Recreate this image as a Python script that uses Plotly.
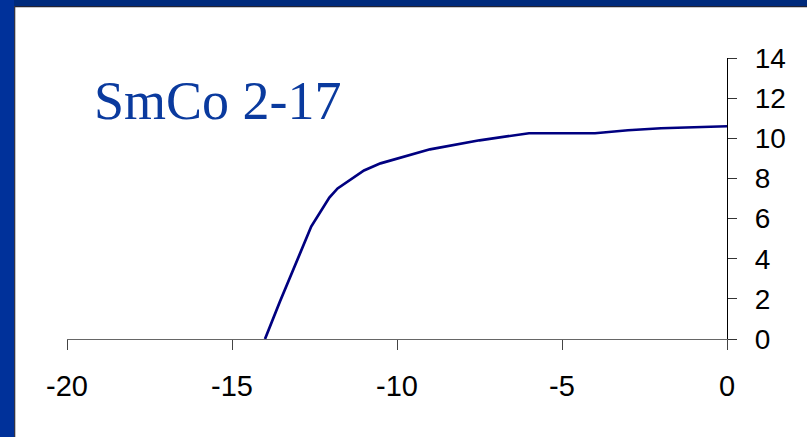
import plotly.graph_objects as go

# Demagnetization curve data
h_values = [-14.0, -13.55, -12.6, -12.05, -11.8, -11.0, -10.5, -9.0, -7.5, -6.0, -4.0, -3.0, -2.0, 0.0]
b_values = [0.0, 1.85, 5.6, 7.05, 7.5, 8.4, 8.75, 9.45, 9.9, 10.25, 10.25, 10.4, 10.5, 10.6]

x_ticks = [-20, -15, -10, -5, 0]
y_ticks = [0, 2, 4, 6, 8, 10, 12, 14]
title_text = "SmCo 2-17"

W, H = 807, 437
L, R, T, B = 67, 80, 58, 98
pw, ph = W - L - R, H - T - B


def px2x(px):
    return (px - L) / pw


def py2y(py):
    return 1 - (py - T) / ph


fig = go.Figure()
fig.add_trace(go.Scatter(
    x=h_values, y=b_values, mode="lines",
    line=dict(color="#000080", width=2.7),
    hoverinfo="skip", showlegend=False, cliponaxis=False,
))

shapes = [
    # top border
    dict(type="rect", xref="paper", yref="paper", x0=px2x(0), x1=px2x(W), y0=py2y(0), y1=py2y(6),
         fillcolor="#002a7c", line=dict(width=0), layer="above"),
    dict(type="rect", xref="paper", yref="paper", x0=px2x(14), x1=px2x(W), y0=py2y(6), y1=py2y(7.3),
         fillcolor="#222233", line=dict(width=0), layer="above"),
    # left border
    dict(type="rect", xref="paper", yref="paper", x0=px2x(0), x1=px2x(14), y0=py2y(0), y1=py2y(H),
         fillcolor="#00319a", line=dict(width=0), layer="above"),
    dict(type="rect", xref="paper", yref="paper", x0=px2x(14), x1=px2x(15.3), y0=py2y(6), y1=py2y(H),
         fillcolor="#333344", line=dict(width=0), layer="above"),
]

fig.update_layout(
    width=W, height=H,
    margin=dict(l=L, r=R, t=T, b=B),
    paper_bgcolor="white", plot_bgcolor="white",
    shapes=shapes,
    annotations=[dict(
        text=title_text, xref="paper", yref="paper",
        x=px2x(92), y=py2y(101), xanchor="left", yanchor="middle",
        showarrow=False,
        font=dict(family="Liberation Serif, serif", size=54, color="#0a3a9e"),
    )],
    xaxis=dict(
        range=[-20, 0], tickvals=x_ticks, ticktext=[str(v) for v in x_ticks],
        showgrid=False, zeroline=False, showline=True, linecolor="#666666", linewidth=1.3,
        ticks="outside", ticklen=10, tickcolor="#444444", tickwidth=1.3,
        ticklabelstandoff=11, automargin=False,
        tickfont=dict(family="Liberation Sans, Arial, sans-serif", size=29, color="black"),
        fixedrange=True,
    ),
    yaxis=dict(
        range=[0, 14], tickvals=y_ticks, ticktext=[str(v) for v in y_ticks],
        side="right",
        showgrid=False, zeroline=False, showline=True, linecolor="black", linewidth=1.3,
        ticks="outside", ticklen=9, tickcolor="#333333", tickwidth=1.3,
        ticklabelstandoff=12, automargin=False,
        tickfont=dict(family="Liberation Sans, Arial, sans-serif", size=28, color="black"),
        fixedrange=True,
    ),
)

fig.write_html(
    "out.html",
    config={"displayModeBar": False},
    post_script="document.body.style.margin='0';document.body.style.padding='0';document.body.style.overflow='hidden';",
)
